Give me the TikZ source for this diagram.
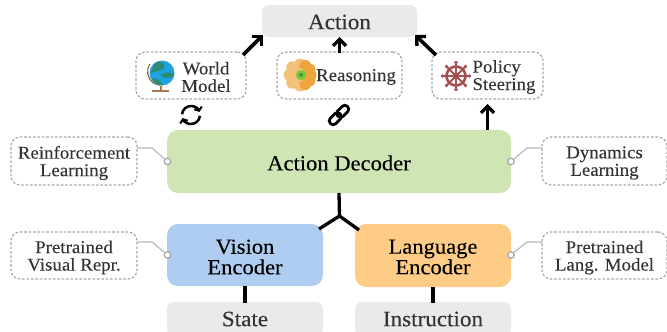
\documentclass[tikz,border=0pt]{standalone}
\usepackage{fontspec}
\setmainfont[FakeStretch=1.05,FakeBold=0.12]{Liberation Serif}
\usetikzlibrary{calc}
\usetikzlibrary{arrows.meta}
\definecolor{actgray}{HTML}{EAEAEA}
\definecolor{decgreen}{HTML}{CFE5B4}
\definecolor{visblue}{HTML}{AFCDF0}
\definecolor{langorange}{HTML}{FFCC88}
\definecolor{dashgray}{HTML}{A8A8A8}
\definecolor{txtgray}{HTML}{333333}
\definecolor{wheelred}{HTML}{A05050}
\definecolor{globeblue}{HTML}{1CA3E0}
\definecolor{globegreen}{HTML}{2E8B6F}
\definecolor{standbrown}{HTML}{A87850}
\definecolor{brainpale}{HTML}{F2C27A}
\definecolor{braindark}{HTML}{EDA63C}

\begin{document}
\begin{tikzpicture}
	[x=1pt,y=-1pt,
	 block/.style={rounded corners=11pt,inner sep=0pt,outer sep=0pt},
	 blocktext/.style={inner sep=0pt,align=center,font=\fontsize{21.5}{20.5}\selectfont},
	 io/.style={fill=actgray,rounded corners=7pt,inner sep=0pt,outer sep=0pt},
	 iotext/.style={inner sep=0pt,text=txtgray,font=\fontsize{22}{22}\selectfont},
	 note/.style={draw=dashgray,line width=1.2pt,dash pattern=on 2.6pt off 1.8pt,rounded corners=9pt,inner sep=0pt,outer sep=0pt},
	 notetext/.style={inner sep=0pt,align=center,text=txtgray,font=\fontsize{18}{17.5}\selectfont},
	 flow/.style={line width=3.6pt,-{Straight Barb[length=6.5pt,width=13pt,line width=3.3pt]}},
	 branch/.style={line width=3.3pt},
	 lead/.style={draw=dashgray!80,line width=1.2pt},
	 port/.style={circle,draw=dashgray,fill=white,line width=1.3pt,inner sep=0pt,minimum size=6.5pt}]

	\useasboundingbox (0,0) rectangle (667,332);

	% main blocks
	\node[io,minimum width=155pt,minimum height=32pt] (action) at (339.5,21) {};
	\node[block,fill=decgreen,minimum width=344pt,minimum height=63pt] (decoder) at (339,161.5) {};
	\node[block,fill=visblue,minimum width=156pt,minimum height=62pt] (vision) at (245,255) {};
	\node[block,fill=langorange,minimum width=156pt,minimum height=63pt] (language) at (433,255.5) {};
	\node[io,minimum width=156pt,minimum height=34pt] (state) at (245,319) {};
	\node[io,minimum width=156pt,minimum height=34pt] (instruction) at (433,319) {};

	\node[iotext] (actiontext) at (339.5,22) {Action};
	\node[blocktext] (decodertext) at (339,163) {Action Decoder};
	\node[blocktext] (visiontext) at (245,257) {Vision\\Encoder};
	\node[blocktext] (languagetext) at (433,257) {Language\\Encoder};
	\node[iotext] (statetext) at (245,319) {State};
	\node[iotext] (instructiontext) at (433,319) {Instruction};

	% upper boxes
	\node[note,minimum width=110pt,minimum height=47pt] (world) at (191,75.5) {};
	\node[note,minimum width=125pt,minimum height=47pt] (reasoning) at (339.5,75.5) {};
	\node[note,minimum width=111pt,minimum height=47pt] (policy) at (487.5,75.5) {};
	\node[notetext] (worldtext) at (206,77) {World\\Model};
	\node[notetext] (reasoningtext) at (356,77) {Reasoning};
	\node[notetext,align=left] (policytext) at (504,77) {Policy\\Steering};

	% side boxes
	\node[note,minimum width=126pt,minimum height=48pt] (reinforcement) at (74,161) {};
	\node[note,minimum width=125pt,minimum height=48pt] (dynamics) at (604.5,161) {};
	\node[note,minimum width=126pt,minimum height=47pt] (visual) at (74,255.5) {};
	\node[note,minimum width=125pt,minimum height=47pt] (lang) at (604.5,255.5) {};
	\node[notetext] (reinforcementtext) at (74,163) {Reinforcement\\Learning};
	\node[notetext] (dynamicstext) at (604.5,163) {Dynamics\\Learning};
	\node[notetext] (visualtext) at (74,257.5) {Pretrained\\Visual Repr.};
	\node[notetext] (langtext) at (604.5,257.5) {Pretrained\\Lang. Model};

	% arrows
	\draw[flow] ($(world.north east)+(-3,3)$) -- ($(action.south west)+(1,-2)$);
	\draw[flow] (reasoning.north) ++(0,1) -- (action.south);
	\draw[flow] ($(policy.north west)+(4,3)$) -- ($(action.south east)+(-2,-2)$);
	\draw[flow] (decoder.north -| policy.south) -- ($(policy.south)+(0,5)$);

	% fork below the decoder
	\coordinate (fork) at (339.5,216);
	\draw[branch] (decoder.south) -- (fork);
	\draw[branch] (fork) -- ($(vision.north east)+(-4,5)$);
	\draw[branch] (fork) -- ($(language.north west)+(4,6)$);
	\draw[branch] (state.north) ++(0,1) -- (vision.south);
	\draw[branch] (instruction.north) ++(0,1) -- (language.south);

	% gray leads with open ports
	\node[port] (portrl) at (167.5,161.5) {};
	\node[port] (portdl) at (511,161.5) {};
	\node[port] (portvr) at (167.5,255) {};
	\node[port] (portlm) at (511,255) {};
	\draw[lead] (reinforcement.east |- 0,148) -- (152,148) -- (portrl);
	\draw[lead] (dynamics.west |- 0,148) -- (527,148) -- (portdl);
	\draw[lead] (visual.east |- 0,242) -- (152,242) -- (portvr);
	\draw[lead] (lang.west |- 0,242) -- (527,242) -- (portlm);

	% globe
	\draw[standbrown!80!black,line width=1.1pt] (150,64) arc[start angle=145,end angle=265,radius=13.5pt];
	\draw[standbrown,line width=2pt] (161,86) -- (161,90);
	\fill[standbrown] (152,89.5) rectangle (169,92);
	\fill[globeblue] (162,73) circle[radius=12.5pt];
	\fill[globegreen] (155,63) .. controls (162,60) and (167,64) .. (163,69) .. controls (158,71) and (155,72) .. (150.5,73) -- cycle;
	\fill[globegreen] (160,75) .. controls (166,71) and (173,72) .. (174.5,75) .. controls (171,79) and (164,79) .. (160,75) -- cycle;
	\fill[globegreen] (152,78) .. controls (158,78) and (161,82) .. (163,85.5) .. controls (157,85) and (153,82) .. (152,78) -- cycle;

	% brain
	\foreach \a/\r in {90/10.5,135/11,180/10.5,225/11,270/10.5}
		\fill[brainpale] ($(300,75)+(\a:\r pt)$) circle[radius=6pt];
	\foreach \a/\r in {-60/10.5,-30/11,0/10.5,30/11,60/10.5}
		\fill[braindark] ($(300,75)+(\a:\r pt)$) circle[radius=6pt];
	\fill[brainpale] (299,75) circle[radius=7pt];
	\fill[braindark] (303,75) circle[radius=5pt];
	\fill[green!55!yellow!75!black!80] (301,75) circle[radius=5pt];
	\fill[green!40!black!70] (301,75) circle[radius=2pt];

	% ship wheel
	\draw[wheelred,line width=2.6pt] (456,76) circle[radius=9.5pt];
	\foreach \a in {0,45,...,315} {
		\draw[wheelred,line width=2pt] (456,76) -- ($(456,76)+(\a:14pt)$);
		\fill[wheelred] ($(456,76)+(\a:13.5pt)$) circle[radius=1.8pt];
	}
	\fill[wheelred] (456,76) circle[radius=3.5pt];

	% sync icon
	\coordinate (sync) at (191,115);
	\draw[line width=2.5pt,-{Straight Barb[length=3pt,width=8pt,line width=2pt]}] ([shift={(-5:9pt)}]sync) arc[start angle=-5,end angle=-160,radius=9pt];
	\draw[line width=2.5pt,-{Straight Barb[length=3pt,width=8pt,line width=2pt]}] ([shift={(175:9pt)}]sync) arc[start angle=175,end angle=20,radius=9pt];

	% link icon
	\coordinate (link) at (339,115);
	\draw[line width=2.8pt,rotate around={45:(link)},rounded corners=3.4pt] ($(link)+(-12,-3.8)$) rectangle ($(link)+(1.5,3.8)$);
	\draw[line width=2.8pt,rotate around={45:(link)},rounded corners=3.4pt] ($(link)+(-1.5,-3.8)$) rectangle ($(link)+(12,3.8)$);
\end{tikzpicture}
\end{document}
